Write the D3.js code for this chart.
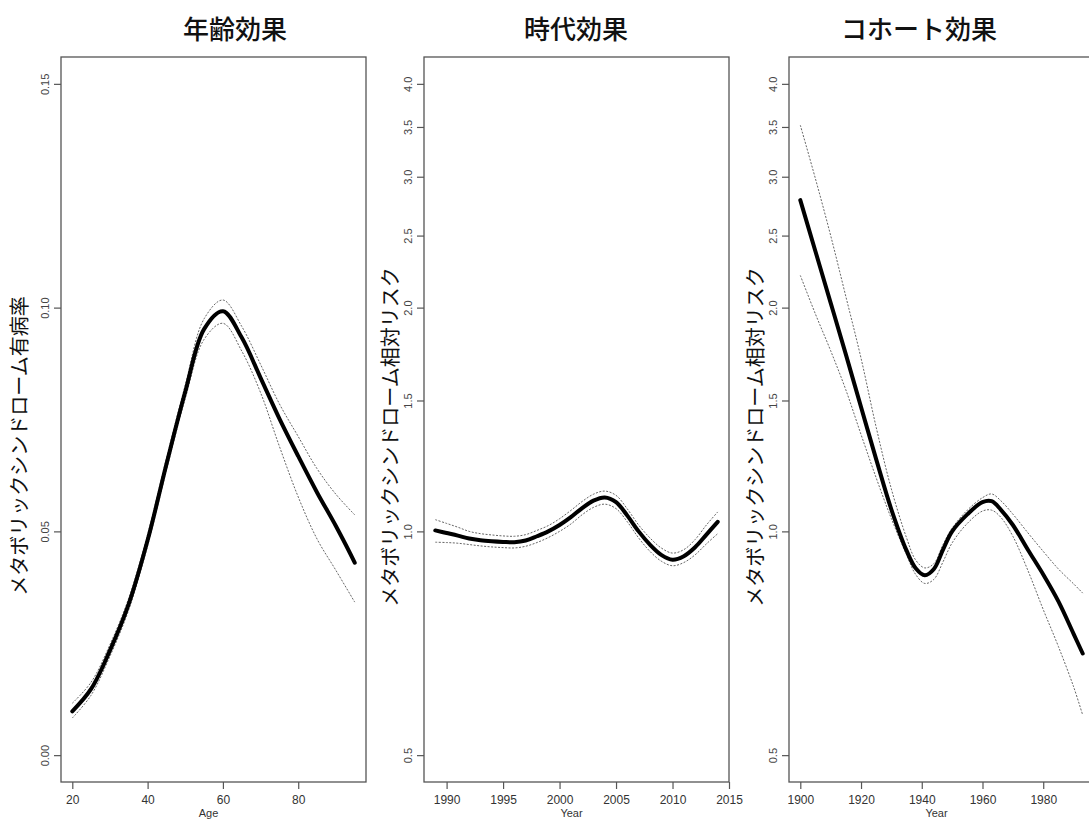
<!DOCTYPE html>
<html><head><meta charset="utf-8">
<script src="https://cdn.jsdelivr.net/npm/d3@7"></script>
<style>body{margin:0;background:#fff;} svg{display:block;background:#fff;}</style>
</head><body><svg id="c" width="1089" height="821"></svg>
<script>
// ---------- data ----------
const panelTitles = ["年齢効果", "時代効果", "コホート効果"];
const yAxisTitles = ["メタボリックシンドローム有病率", "メタボリックシンドローム相対リスク", "メタボリックシンドローム相対リスク"];
const xAxisTitles = ["Age", "Year", "Year"];

const ageYears  = [20, 25, 30, 35, 40, 45, 50, 55, 60, 65, 70, 75, 80, 85, 90, 95];
const ageFit    = [0.0098, 0.0148, 0.0234, 0.0338, 0.0480, 0.0650, 0.0812, 0.0952, 0.0992, 0.0933, 0.0843, 0.0752, 0.0668, 0.0587, 0.0512, 0.0430];
const ageLower  = [0.0083, 0.0134, 0.0221, 0.0325, 0.0468, 0.0637, 0.0797, 0.0929, 0.0965, 0.0903, 0.0810, 0.0690, 0.0577, 0.0483, 0.0413, 0.0342];
const ageUpper  = [0.0116, 0.0163, 0.0247, 0.0351, 0.0493, 0.0663, 0.0827, 0.0975, 0.1017, 0.0958, 0.0873, 0.0785, 0.0712, 0.0640, 0.0583, 0.0537];

const periodYears = [1989, 1990, 1991, 1992, 1993, 1994, 1995, 1996, 1997, 1998, 1999, 2000, 2001, 2002, 2003, 2004, 2005, 2006, 2007, 2008, 2009, 2010, 2011, 2012, 2013, 2014];
const periodFit   = [1.003, 0.995, 0.987, 0.978, 0.973, 0.970, 0.968, 0.967, 0.972, 0.985, 1.000, 1.020, 1.045, 1.075, 1.100, 1.111, 1.095, 1.050, 1.000, 0.960, 0.930, 0.916, 0.926, 0.952, 0.990, 1.030];
const periodLower = [0.967, 0.966, 0.964, 0.960, 0.956, 0.953, 0.951, 0.950, 0.955, 0.966, 0.981, 1.000, 1.023, 1.053, 1.077, 1.088, 1.073, 1.030, 0.980, 0.940, 0.912, 0.899, 0.908, 0.930, 0.962, 0.993];
const periodUpper = [1.037, 1.025, 1.013, 1.000, 0.993, 0.989, 0.986, 0.985, 0.990, 1.003, 1.018, 1.040, 1.067, 1.097, 1.122, 1.133, 1.118, 1.072, 1.020, 0.980, 0.950, 0.935, 0.945, 0.975, 1.020, 1.062];

const cohortYears = [1900, 1905, 1910, 1915, 1920, 1925, 1930, 1935, 1938, 1941, 1944, 1947, 1950, 1955, 1960, 1963, 1966, 1970, 1975, 1980, 1985, 1990, 1993];
const cohortFit   = [2.79, 2.38, 2.03, 1.73, 1.47, 1.25, 1.07, 0.942, 0.892, 0.873, 0.890, 0.945, 1.000, 1.054, 1.095, 1.098, 1.070, 1.020, 0.944, 0.875, 0.805, 0.728, 0.685];
const cohortLower = [2.21, 1.96, 1.75, 1.55, 1.35, 1.18, 1.04, 0.930, 0.875, 0.851, 0.862, 0.910, 0.965, 1.025, 1.065, 1.068, 1.045, 0.985, 0.885, 0.785, 0.700, 0.618, 0.566];
const cohortUpper = [3.52, 2.98, 2.50, 2.07, 1.71, 1.38, 1.14, 0.980, 0.915, 0.893, 0.905, 0.960, 1.010, 1.068, 1.110, 1.123, 1.100, 1.055, 0.995, 0.940, 0.890, 0.850, 0.826];

const ageTicks    = [20, 40, 60, 80];
const periodTicks = [1990, 1995, 2000, 2005, 2010, 2015];
const cohortTicks = [1900, 1920, 1940, 1960, 1980];
const prevTicks   = [0.00, 0.05, 0.10, 0.15];
const rrTicks     = [0.5, 1.0, 1.5, 2.0, 2.5, 3.0, 3.5, 4.0];

// ---------- layout ----------
const svg = d3.select("#c");
const plotTop = 57, plotBottom = 782;
function pad(ext) { const d = (ext[1] - ext[0]) * 0.04; return [ext[0] - d, ext[1] + d]; }

const logY = d3.scaleLog()
  .domain([0.5 * Math.pow(2, -0.12), 4 * Math.pow(2, 0.12)])
  .range([plotBottom, plotTop]);

const panels = [
  { left: 61, right: 366, titleX: 235, ylabX: 18, ylabY: 446,
    xs: ageYears, fit: ageFit, lo: ageLower, hi: ageUpper, xt: ageTicks,
    y: d3.scaleLinear().domain(pad([0, 0.15])).range([plotBottom, plotTop]),
    yt: prevTicks, yfmt: d3.format(".2f") },
  { left: 424, right: 729, titleX: 576, ylabX: 389, ylabY: 437,
    xs: periodYears, fit: periodFit, lo: periodLower, hi: periodUpper, xt: periodTicks,
    y: logY, yt: rrTicks, yfmt: d3.format(".1f") },
  { left: 789, right: 1094, titleX: 919, ylabX: 754, ylabY: 437,
    xs: cohortYears, fit: cohortFit, lo: cohortLower, hi: cohortUpper, xt: cohortTicks,
    y: logY, yt: rrTicks, yfmt: d3.format(".1f") }
];

const numFont = "'Liberation Sans', Arial, Helvetica, sans-serif";
const jpFont = "'Noto Sans CJK JP', 'Noto Sans', sans-serif";

panels.forEach((p, i) => {
  const x = d3.scaleLinear().domain(pad(d3.extent(p.xs))).range([p.left, p.right]);
  const g = svg.append("g");

  const clipId = "clip" + i;
  svg.append("clipPath").attr("id", clipId)
    .append("rect").attr("x", p.left).attr("y", plotTop)
    .attr("width", p.right - p.left).attr("height", plotBottom - plotTop);

  const line = arr => d3.line()
    .x((d, k) => x(p.xs[k])).y(d => p.y(d))
    .curve(d3.curveCatmullRom.alpha(0.5))(arr);
  const cg = g.append("g").attr("clip-path", `url(#${clipId})`);
  [p.lo, p.hi].forEach(arr => {
    cg.append("path").attr("d", line(arr)).attr("fill", "none")
      .attr("stroke", "#666").attr("stroke-width", 1)
      .attr("stroke-dasharray", "2,1.5");
  });
  cg.append("path").attr("d", line(p.fit)).attr("fill", "none")
    .attr("stroke", "#000").attr("stroke-width", 4)
    .attr("stroke-linejoin", "round").attr("stroke-linecap", "round");

  g.append("rect").attr("x", p.left).attr("y", plotTop)
    .attr("width", p.right - p.left).attr("height", plotBottom - plotTop)
    .attr("fill", "none").attr("stroke", "#555").attr("stroke-width", 1.3);

  const xa = g.append("g").attr("transform", `translate(0,${plotBottom})`)
    .call(d3.axisBottom(x).tickValues(p.xt).tickSize(7).tickPadding(6).tickFormat(d3.format("d")));
  xa.select(".domain").remove();
  xa.selectAll("line").attr("stroke", "#555").attr("stroke-width", 1.2);
  xa.selectAll("text").attr("font-family", numFont).attr("font-size", 12).attr("fill", "#333");

  const ya = g.append("g").attr("transform", `translate(${p.left},0)`)
    .call(d3.axisLeft(p.y).tickValues(p.yt).tickSize(7).tickFormat(p.yfmt));
  ya.select(".domain").remove();
  ya.selectAll("line").attr("stroke", "#555").attr("stroke-width", 1.2);
  ya.selectAll("text")
    .attr("x", null).attr("dy", null)
    .attr("transform", "translate(-12,0) rotate(-90)")
    .attr("text-anchor", "middle")
    .attr("font-family", numFont).attr("font-size", 11).attr("fill", "#444");

  svg.append("text").attr("x", p.titleX).attr("y", 27)
    .attr("text-anchor", "middle").attr("dominant-baseline", "central")
    .attr("font-family", jpFont).attr("font-size", 26).attr("font-weight", 500).attr("fill", "#111")
    .text(panelTitles[i]);

  svg.append("text")
    .attr("transform", `translate(${p.ylabX},${p.ylabY}) rotate(-90)`)
    .attr("text-anchor", "middle").attr("dominant-baseline", "central")
    .attr("font-family", jpFont).attr("font-size", 20).attr("fill", "#111")
    .text(yAxisTitles[i]);

  svg.append("text").attr("x", (p.left + p.right) / 2 - 5).attr("y", 817)
    .attr("text-anchor", "middle")
    .attr("font-family", numFont).attr("font-size", 11).attr("fill", "#333")
    .text(xAxisTitles[i]);
});
</script>
</body></html>
